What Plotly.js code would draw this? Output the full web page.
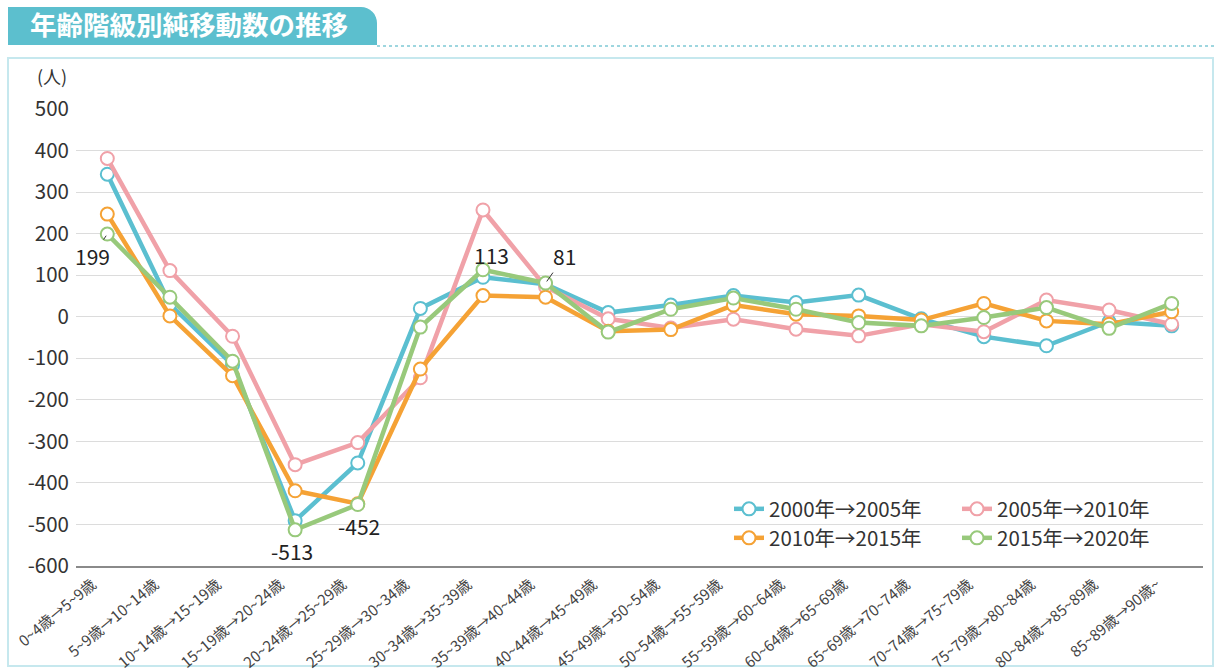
<!DOCTYPE html>
<html>
<head>
<meta charset="utf-8">
<script src="https://cdn.plot.ly/plotly-3.0.1.min.js"></script>
<style>
  html, body { margin: 0; padding: 0; background: #ffffff; }
  #chart { width: 1216px; height: 672px; }
</style>
</head>
<body>
<div id="chart"></div>
<script>
const categories = [
  '0~4歳→5~9歳', '5~9歳→10~14歳', '10~14歳→15~19歳', '15~19歳→20~24歳',
  '20~24歳→25~29歳', '25~29歳→30~34歳', '30~34歳→35~39歳', '35~39歳→40~44歳',
  '40~44歳→45~49歳', '45~49歳→50~54歳', '50~54歳→55~59歳', '55~59歳→60~64歳',
  '60~64歳→65~69歳', '65~69歳→70~74歳', '70~74歳→75~79歳', '75~79歳→80~84歳',
  '80~84歳→85~89歳', '85~89歳→90歳~'
];
const seriesNames = ['2000年→2005年', '2005年→2010年', '2010年→2015年', '2015年→2020年'];
const s2000_2005 = [343, 30, -116, -491, -352, 20, 95, 78, 10, 28, 51, 34, 52, -5, -48, -70, -12, -22];
const s2005_2010 = [381, 111, -47, -356, -303, -147, 257, 72, -5, -27, -6, -30, -46, -18, -36, 40, 16, -18];
const s2010_2015 = [247, 2, -142, -419, -450, -126, 51, 47, -35, -31, 28, 6, 2, -8, 32, -10, -18, 12];
const s2015_2020 = [199, 47, -107, -513, -452, -25, 113, 81, -37, 18, 45, 18, -14, -22, -2, 22, -28, 32];
const yTicks = [500, 400, 300, 200, 100, 0, -100, -200, -300, -400, -500, -600];

const colors = ['#5bbfd0', '#f0a1a8', '#f5a235', '#98c97b'];
const allSeries = [s2000_2005, s2005_2010, s2010_2015, s2015_2020];
const legendIds = ['legend', 'legend', 'legend2', 'legend2'];

const W = 1216, H = 672;
const M = { l: 76, r: 13, t: 109, b: 106 };
const PW = W - M.l - M.r, PH = H - M.t - M.b;
const X = px => (px - M.l) / PW;
const Y = py => (H - M.b - py) / PH;

const traces = allSeries.map((vals, i) => ({
  type: 'scatter',
  mode: 'lines+markers',
  name: seriesNames[i],
  x: categories,
  y: vals,
  legend: legendIds[i],
  line: { color: colors[i], width: 4.5 },
  marker: { size: 13, color: '#ffffff', line: { color: colors[i], width: 2 } },
  cliponaxis: false
}));

const font = '"Noto Sans CJK JP", "Noto Sans", sans-serif';

function P(points) {
  return points.map((p, i) => (i === 0 ? 'M' : 'L') + X(p[0]) + ',' + Y(p[1])).join(' ') + ' Z';
}

// banner with rounded top-right corner
const r = 16;
const bx0 = 8, by0 = 7, bx1 = 377, by1 = 45;
const bannerPts = [[bx0, by0], [bx1 - r, by0]];
for (let k = 1; k <= 8; k++) {
  const a = -Math.PI / 2 + (Math.PI / 2) * k / 8;
  bannerPts.push([bx1 - r + r * Math.cos(a), by0 + r + r * Math.sin(a)]);
}
bannerPts.push([bx1, by1], [bx0, by1]);

const shapes = [
  { type: 'path', xref: 'paper', yref: 'paper', path: P(bannerPts), fillcolor: '#5cbfce', line: { width: 0 }, layer: 'below' },
  { type: 'line', xref: 'paper', yref: 'paper', x0: X(bx1), x1: X(1216), y0: Y(46), y1: Y(46), line: { color: '#7fc9d5', width: 1.5, dash: 'dot' }, layer: 'below' },
  { type: 'rect', xref: 'paper', yref: 'paper', x0: X(8), x1: X(1213), y0: Y(58), y1: Y(666), line: { color: '#c6e8ee', width: 2 }, fillcolor: 'rgba(0,0,0,0)', layer: 'below' },
  // white backing behind the legend block (covers gridline between the two legend rows)
  { type: 'rect', xref: 'paper', yref: 'paper', x0: X(722), x1: X(1160), y0: Y(497), y1: Y(551), line: { width: 0 }, fillcolor: '#ffffff', layer: 'between' }
];

const annFont = { family: font, size: 21, color: '#222' };
const annotations = [
  { xref: 'paper', yref: 'paper', x: X(69), y: Y(76), xanchor: 'right', yanchor: 'middle', text: '(人)', showarrow: false, font: { family: font, size: 18, color: '#333' } },
  { x: categories[0], y: s2015_2020[0], text: String(s2015_2020[0]), showarrow: true, arrowhead: 0, arrowwidth: 1, arrowcolor: '#333', ax: -15, ay: 22, standoff: 2, font: annFont },
  { x: categories[3], y: s2015_2020[3], text: String(s2015_2020[3]), showarrow: false, xshift: -3, yshift: -21, font: annFont },
  { x: categories[4], y: s2015_2020[4], text: String(s2015_2020[4]), showarrow: false, xshift: 1, yshift: -21, font: annFont },
  { x: categories[6], y: s2015_2020[6], text: String(s2015_2020[6]), showarrow: false, xshift: 9, yshift: 15, font: annFont },
  { x: categories[7], y: s2015_2020[7], text: String(s2015_2020[7]), showarrow: true, arrowhead: 0, arrowwidth: 1, arrowcolor: '#333', ax: 19, ay: -27, standoff: 2, font: annFont }
];

const legendCommon = {
  orientation: 'h', xanchor: 'left', yanchor: 'middle', x: X(729),
  bgcolor: 'rgba(255,255,255,0)', borderwidth: 0, entrywidth: 183, entrywidthmode: 'pixels',
  font: { family: font, size: 20.5, color: '#333' }, itemwidth: 30, tracegroupgap: 0
};

const layout = {
  width: W, height: H,
  margin: M,
  paper_bgcolor: '#ffffff', plot_bgcolor: '#ffffff',
  title: {
    text: '年齢階級別純移動数の推移',
    xref: 'container', yref: 'container', x: 30 / W, xanchor: 'left', y: 1 - 26 / H, yanchor: 'middle',
    font: { family: font, size: 26.5, color: '#ffffff', weight: 'bold' }
  },
  showlegend: true,
  legend: Object.assign({}, legendCommon, { y: Y(509) }),
  legend2: Object.assign({}, legendCommon, { y: Y(538) }),
  xaxis: {
    type: 'category', range: [-0.5, 17.5], tickangle: -40,
    showgrid: false, zeroline: false, showline: true, linecolor: '#8a8a8a', linewidth: 2,
    ticks: '', ticklabelshift: -15, ticklabelstandoff: 2,
    tickfont: { family: font, size: 15, color: '#444' }, automargin: false
  },
  yaxis: {
    range: [-600, 500], tickvals: yTicks, ticktext: yTicks.map(String),
    showgrid: true, gridcolor: '#dcdcdc', gridwidth: 1, zeroline: false, showline: false,
    ticks: '', ticklabelstandoff: 6, tickfont: { family: font, size: 20.5, color: '#333' }, automargin: false
  },
  shapes: shapes,
  annotations: annotations
};

Plotly.newPlot('chart', traces, layout, { displayModeBar: false, staticPlot: true });
</script>
</body>
</html>
